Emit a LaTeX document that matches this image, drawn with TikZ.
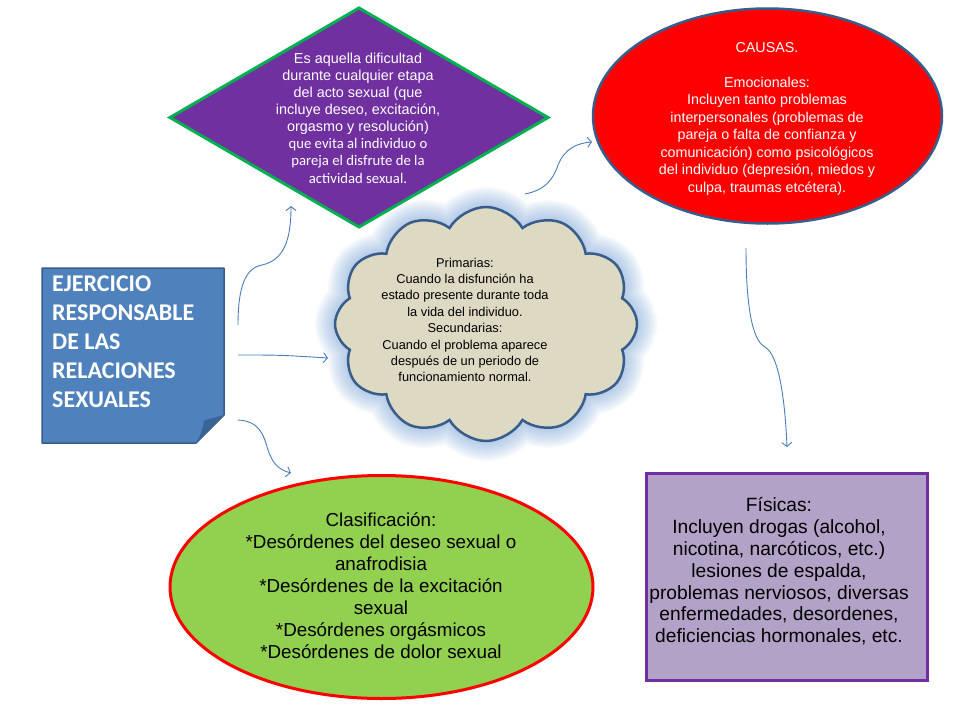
\documentclass[tikz,border=0pt]{standalone}
\usepackage{fontspec}
\setmainfont{Liberation Sans}
\newfontfamily\calfont{Carlito}
\usetikzlibrary{shapes.geometric,shapes.symbols,arrows.meta}
\definecolor{dpurple}{HTML}{7030A0}
\definecolor{dgreen}{HTML}{00B050}
\definecolor{dblue}{HTML}{385D8A}
\definecolor{noteblue}{HTML}{4F81BD}
\definecolor{folddark}{HTML}{3A6396}
\definecolor{cloudfill}{HTML}{DDD9C3}
\definecolor{glowblue}{HTML}{7FA8DC}
\definecolor{lgreen}{HTML}{92D050}
\definecolor{lpurple}{HTML}{B3A2C7}
\definecolor{arrowblue}{HTML}{4A7EBB}
\begin{document}
\begin{tikzpicture}[x=1pt,y=-1pt,
  shapebox/.style={inner sep=0pt, outer sep=0pt},
  txt/.style={inner sep=0pt, align=center},
  conn/.style={draw=arrowblue, line width=0.9pt, -{Straight Barb[length=4pt,width=10pt]}},
  cloudshape/.style={cloud, cloud puffs=12, cloud puff arc=120, cloud ignores aspect, minimum width=302pt, minimum height=234pt, shapebox}
]
\useasboundingbox[fill=white] (0,0) rectangle (960,720);

% diamond
\node[diamond, shapebox, draw=dgreen, line width=3pt, fill=dpurple, minimum width=378pt, minimum height=219pt] (def) at (359,117.5) {};
\node[txt, text=white, font=\fontsize{14.4}{17.1}\selectfont] (deftext) at (358,118) {Es aquella dificultad\\durante cualquier etapa\\del acto sexual (que\\incluye deseo, excitación,\\orgasmo y resolución)\\{\calfont\fontsize{14.7}{17.1}\selectfont que evita al individuo o}\\{\calfont\fontsize{14.7}{17.1}\selectfont pareja el disfrute de la}\\{\calfont\fontsize{14.7}{17.1}\selectfont actividad sexual.}};

% red ellipse
\node[ellipse, shapebox, draw=dblue, line width=2.5pt, fill=red, minimum width=349pt, minimum height=215pt] (causas) at (767.5,116) {};
\node[txt, text=white, font=\fontsize{14.3}{17.5}\selectfont] (causastext) at (767,118.5) {CAUSAS.\\\mbox{}\\Emocionales:\\Incluyen tanto problemas\\interpersonales (problemas de\\pareja o falta de confianza y\\comunicación) como psicológicos\\del individuo (depresión, miedos y\\culpa, traumas etcétera).};

% cloud glow
\foreach \w [count=\i] in {40,36,32,28,24,20,16,12,8,5}
  \node[cloudshape, draw=glowblue, draw opacity=0.07, line width=\w pt] (glow\i) at (486,324) {};
\node[cloudshape, draw=dblue, line width=2.5pt, fill=cloudfill] (cloud) at (486,324) {};
\node[txt, font=\fontsize{12.8}{16.4}\selectfont] (cloudtext) at (465,320) {Primarias:\\Cuando la disfunción ha\\estado presente durante toda\\la vida del individuo.\\Secundarias:\\Cuando el problema aparece\\después de un periodo de\\funcionamiento normal.};

% note box
\node[shapebox, minimum width=182pt, minimum height=175pt] (title) at (133,355.5) {};
\filldraw[fill=noteblue, draw=dblue, line width=1.5pt, line join=round]
  (title.north west) -- (title.north east) -- ([yshift=28pt]title.south east)
  -- ([xshift=-28pt]title.south east) -- (title.south west) -- cycle;
\fill[folddark] ([yshift=28pt]title.south east) .. controls ([xshift=-10pt,yshift=25pt]title.south east) and ([xshift=-17pt,yshift=24pt]title.south east) .. ([xshift=-20pt,yshift=22pt]title.south east)
  .. controls ([xshift=-21pt,yshift=15pt]title.south east) and ([xshift=-24pt,yshift=6pt]title.south east) .. ([xshift=-28pt]title.south east) -- cycle;
\node[txt, align=left, anchor=west, text=white, font=\calfont\bfseries\fontsize{24}{29}\selectfont] (titletext) at (52,342) {EJERCICIO\\RESPONSABLE\\DE LAS\\RELACIONES\\SEXUALES};

% green ellipse
\node[ellipse, shapebox, draw=red, line width=3pt, fill=lgreen, minimum width=423pt, minimum height=223pt] (clasif) at (381.5,587) {};
\node[txt, font=\fontsize{18.8}{22}\selectfont] (clasiftext) at (381,586) {Clasificación:\\*Desórdenes del deseo sexual o\\anafrodisia\\*Desórdenes de la excitación\\sexual\\*Desórdenes orgásmicos\\*Desórdenes de dolor sexual};

% purple box
\node[rectangle, shapebox, draw=dpurple, line width=3pt, fill=lpurple, minimum width=281pt, minimum height=207pt] (fisicas) at (786.5,576.5) {};
\node[txt, font=\fontsize{19.2}{21.8}\selectfont] (fisicastext) at (779,571.5) {Físicas:\\Incluyen drogas (alcohol,\\nicotina, narcóticos, etc.)\\lesiones de espalda,\\problemas nerviosos, diversas\\enfermedades, desordenes,\\deficiencias hormonales, etc.};

% connectors
\coordinate (a1s) at (238,325);
\coordinate (a1m) at (262,265);
\coordinate (a1e) at (291,206);
\coordinate (a2s) at (238,355);
\coordinate (a2e) at (328,358);
\coordinate (a3s) at (238,420);
\coordinate (a3m) at (268,450);
\coordinate (a3e) at (291,473);
\coordinate (a4s) at (525,194);
\coordinate (a4m) at (558,165);
\coordinate (a4e) at (592,142);
\coordinate (a5s) at (746,248);
\coordinate (a5m) at (765,347);
\coordinate (a5e) at (787,447);

\draw[conn] (a1s) .. controls (238,285) and (246,268) .. (a1m) .. controls (284,260) and (291,240) .. (a1e);
\draw[conn] (a2s) .. controls (280,355) .. (a2e);
\draw[conn] (a3s) .. controls (260,421) and (264,436) .. (a3m) .. controls (273,465) and (280,470) .. (a3e);
\draw[conn] (a4s) .. controls (545,190) and (553,180) .. (a4m) .. controls (565,148) and (578,143) .. (a4e);
\draw[conn] (a5s) .. controls (746,300) and (751,340) .. (a5m) .. controls (779,355) and (785,400) .. (a5e);
\end{tikzpicture}
\end{document}
